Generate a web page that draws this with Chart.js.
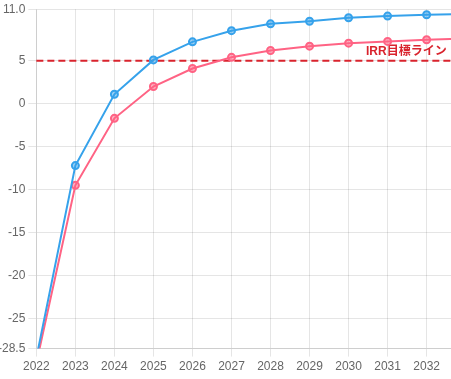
<!DOCTYPE html>
<html>
<head>
<meta charset="utf-8">
<script src="https://cdn.jsdelivr.net/npm/chart.js@4.4.1/dist/chart.umd.min.js"></script>
<style>
html,body{margin:0;padding:0;overflow:hidden;background:#fff;width:451px;height:379px;}
#wrap{position:absolute;left:-5px;top:-1px;width:487px;height:378px;}
</style>
</head>
<body>
<div id="wrap"><canvas id="c"></canvas></div>
<script>
// ---- data ----
const years = ['2022','2023','2024','2025','2026','2027','2028','2029','2030','2031','2032','2033'];
const seriesBlue = [-29.6, -7.2, 1.1, 5.1, 7.2, 8.5, 9.3, 9.6, 10.0, 10.2, 10.35, 10.45];
const seriesPink = [-30.2, -9.5, -1.7, 2.0, 4.1, 5.4, 6.2, 6.7, 7.05, 7.25, 7.45, 7.6];
const seriesNames = ['IRR（ケースA）', 'IRR（ケースB）'];
const targetIRR = 5;
const targetLabel = 'IRR目標ライン';
const yMin = -28.5;
const yMax = 11.0;

const FONT = "'Helvetica Neue', Helvetica, Arial, 'Noto Sans CJK JP', sans-serif";
Chart.defaults.font.family = FONT;
Chart.defaults.color = '#666';

const targetLinePlugin = {
  id: 'targetLine',
  beforeDatasetsDraw(chart) {
    const {ctx, chartArea, scales} = chart;
    const py = scales.y.getPixelForValue(targetIRR);
    ctx.save();
    ctx.strokeStyle = '#d9232d';
    ctx.lineWidth = 2;
    ctx.setLineDash([7, 4]);
    ctx.beginPath();
    ctx.moveTo(chartArea.left, py);
    ctx.lineTo(chartArea.right, py);
    ctx.stroke();
    ctx.setLineDash([]);
    ctx.fillStyle = '#d9232d';
    ctx.font = 'bold 12px ' + FONT;
    ctx.textAlign = 'right';
    ctx.textBaseline = 'alphabetic';
    ctx.fillText(targetLabel, chartArea.right - 19, py - 6);
    ctx.restore();
  }
};

new Chart(document.getElementById('c'), {
  type: 'line',
  data: {
    labels: years,
    datasets: [
      {
        label: seriesNames[0],
        data: seriesBlue,
        borderColor: '#36a2eb',
        backgroundColor: 'rgba(54,162,235,0.5)',
        borderWidth: 2,
        pointRadius: 3.5,
        pointBorderWidth: 2,
        tension: 0
      },
      {
        label: seriesNames[1],
        data: seriesPink,
        borderColor: '#ff6384',
        backgroundColor: 'rgba(255,99,132,0.5)',
        borderWidth: 2,
        pointRadius: 3.5,
        pointBorderWidth: 2,
        tension: 0
      }
    ]
  },
  options: {
    responsive: true,
    maintainAspectRatio: false,
    animation: false,
    plugins: {
      legend: { display: false },
      tooltip: { enabled: false }
    },
    scales: {
      x: {
        ticks: { font: { size: 12 } }
      },
      y: {
        min: yMin,
        max: yMax,
        ticks: {
          stepSize: 5,
          font: { size: 12 },
          callback: (v) => (v === yMin || v === yMax) ? v.toFixed(1) : String(v)
        }
      }
    }
  },
  plugins: [targetLinePlugin]
});
</script>
</body>
</html>
